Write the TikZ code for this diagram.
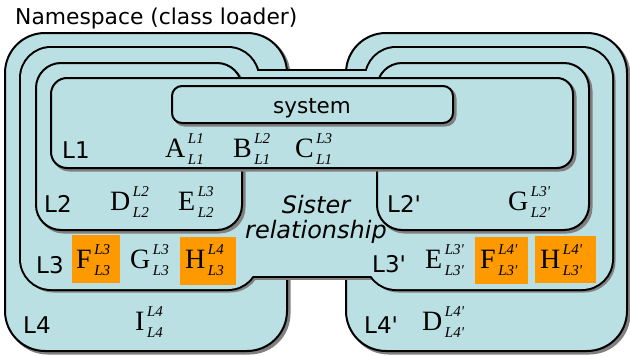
\documentclass[tikz,border=0pt]{standalone}
\usepackage{amsmath}
\usepackage{fontspec}
\setmainfont{Liberation Serif}
\newfontfamily\lblfont{DejaVu Sans}
\definecolor{boxfill}{HTML}{BBE0E3}
\definecolor{hilite}{HTML}{FF9900}
\definecolor{shade}{HTML}{808080}
\newcommand{\ldr}[3]{{\fontsize{28}{28}\selectfont #1}\kern2.5pt{\fontsize{15}{15}\selectfont\itshape\makebox[0pt][l]{\raisebox{14pt}{#2}}\raisebox{-7pt}{#3}}}
\newcommand{\pr}{\textquotesingle}
\tikzset{
  shadowed/.style={fill=shade, draw=shade, line width=2pt},
  boxstyle/.style={fill=boxfill, draw=black, line width=2pt},
  sanslbl/.style={font=\lblfont\fontsize{23}{23}\selectfont, inner sep=0pt, anchor=base west},
  ldrlbl/.style={inner sep=0pt, anchor=base west},
  hibox/.style={fill=hilite, draw=none}
}
\newcommand{\shbox}[3]{%
  \draw[shadowed, rounded corners=#1pt, shift={(2.5,2.5)}] #2 rectangle #3;
  \draw[boxstyle, rounded corners=#1pt] #2 rectangle #3;}
\begin{document}
\begin{tikzpicture}[x=1pt, y=-1pt]
\useasboundingbox (0,0) rectangle (630,356);
% outer L4 and L4'
\shbox{40}{(5,33)}{(287,351)}
\shbox{40}{(346,33)}{(627,351)}
% L3 union (L3, middle, L3')
\begin{scope}[shift={(2.5,2.5)}]
  \draw[shadowed, rounded corners=30pt] (21,48) rectangle (258,289);
  \draw[shadowed] (240,71) rectangle (385,276);
  \draw[shadowed, rounded corners=30pt] (366,48) rectangle (612,289);
\end{scope}
\draw[line width=4pt, rounded corners=30pt] (21,48) rectangle (258,289);
\draw[line width=4pt] (240,71) rectangle (385,276);
\draw[line width=4pt, rounded corners=30pt] (366,48) rectangle (612,289);
\fill[boxfill, rounded corners=30pt] (21,48) rectangle (258,289);
\fill[boxfill] (240,71) rectangle (385,276);
\fill[boxfill, rounded corners=30pt] (366,48) rectangle (612,289);
% L2 and L2'
\shbox{25}{(36,63)}{(242,230)}
\shbox{25}{(377,63)}{(589,230)}
% L1 and system
\shbox{16}{(51,78)}{(573,168)}
\shbox{10}{(172,86)}{(453,123)}
% highlighted boxes
\fill[hibox] (72,235) rectangle (120,283);
\fill[hibox] (180,237) rectangle (236,285);
\fill[hibox] (475,237) rectangle (528,284);
\fill[hibox] (535,236) rectangle (596,283);
% texts
\node[inner sep=0pt, anchor=base west, font=\lblfont\fontsize{21.8}{22}\selectfont] (title) at (15,24) {Namespace (class loader)};
\node[inner sep=0pt, anchor=base, font=\lblfont\fontsize{21.5}{21.5}\selectfont] (sys) at (312,113) {system};
\node[inner sep=0pt, align=center, font=\lblfont\itshape\fontsize{24}{25}\selectfont] (sister) at (316,219) {Sister\\relationship};
\node[sanslbl] (nL1) at (62,158) {L1};
\node[sanslbl] (nL2) at (44,212) {L2};
\node[sanslbl] (nL3) at (36,273) {L3};
\node[sanslbl] (nL4) at (23,333) {L4};
\node[sanslbl] (nL2p) at (387,212) {L2\pr};
\node[sanslbl] (nL3p) at (372,272) {L3\pr};
\node[sanslbl] (nL4p) at (364,333) {L4\pr};
\node[ldrlbl] (cA) at (165,157) {\ldr{A}{L1}{L1}};
\node[ldrlbl] (cB) at (233,157) {\ldr{B}{L2}{L1}};
\node[ldrlbl] (cC) at (295,157) {\ldr{C}{L3}{L1}};
\node[ldrlbl] (cD) at (110,210) {\ldr{D}{L2}{L2}};
\node[ldrlbl] (cE) at (178,210) {\ldr{E}{L3}{L2}};
\node[ldrlbl] (cF) at (76,268) {\ldr{F}{L3}{L3}};
\node[ldrlbl] (cG) at (130,268) {\ldr{G}{L3}{L3}};
\node[ldrlbl] (cH) at (185,268) {\ldr{H}{L4}{L3}};
\node[ldrlbl] (cI) at (135,330) {\ldr{I}{L4}{L4}};
\node[ldrlbl] (cGp) at (508,210) {\ldr{G}{L3\pr}{L2\pr}};
\node[ldrlbl] (cEp) at (425,268) {\ldr{E}{L3\pr}{L3\pr}};
\node[ldrlbl] (cFp) at (480,268) {\ldr{F}{L4\pr}{L3\pr}};
\node[ldrlbl] (cHp) at (540,268) {\ldr{H}{L4\pr}{L3\pr}};
\node[ldrlbl] (cDp) at (422,330) {\ldr{D}{L4\pr}{L4\pr}};
\end{tikzpicture}
\end{document}
